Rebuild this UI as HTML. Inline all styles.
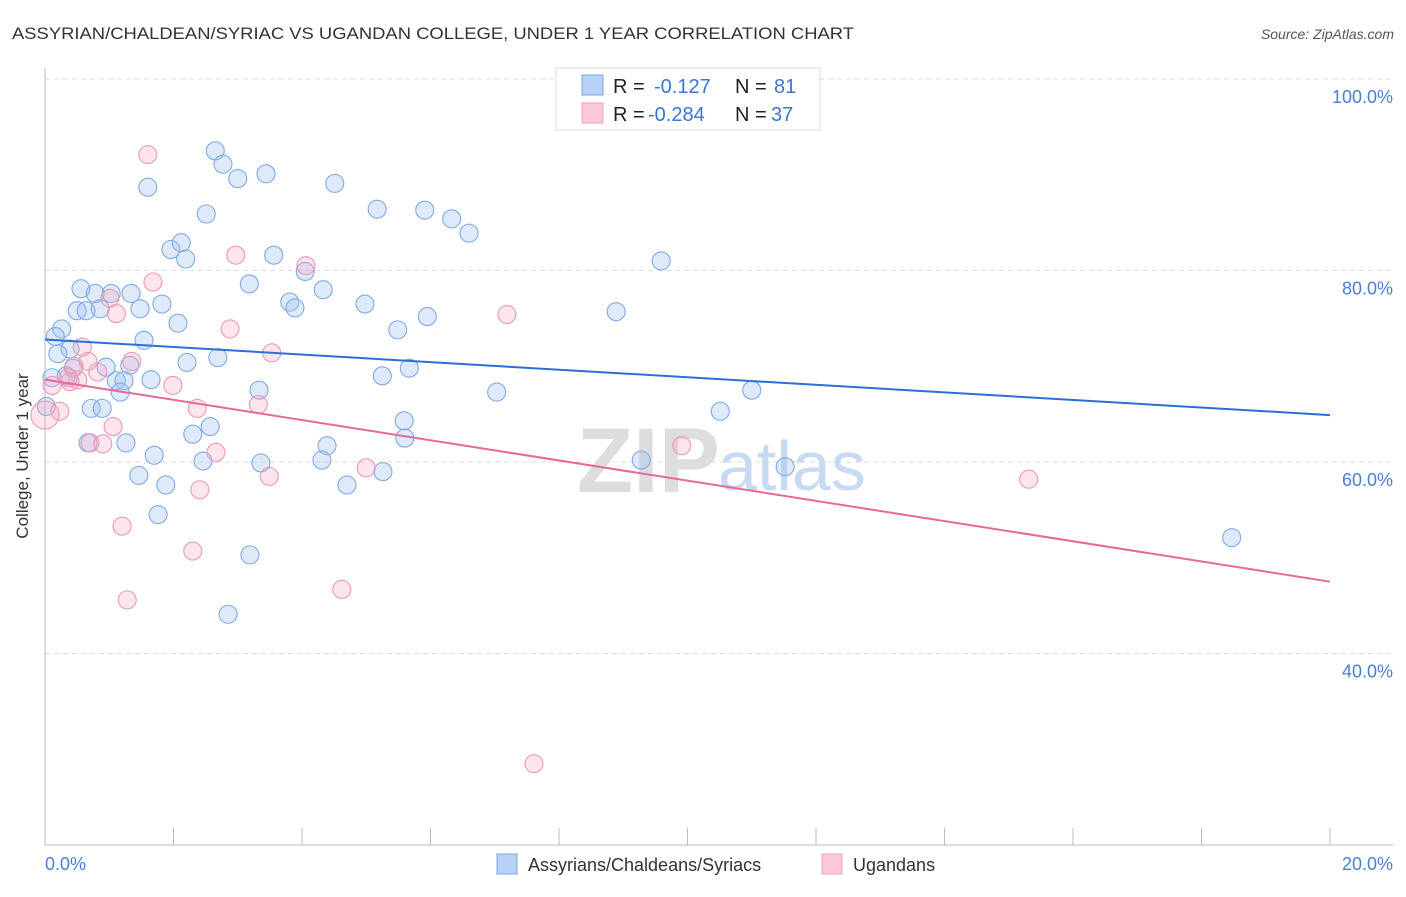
<!DOCTYPE html>
<html><head><meta charset="utf-8"><style>
body{margin:0;background:#fff;font-family:"Liberation Sans",sans-serif;}
svg text{font-family:"Liberation Sans",sans-serif;}
</style></head><body>
<svg id="chart" width="1406" height="892" viewBox="0 0 1406 892">
<text x="12" y="39" font-size="17" fill="#333" textLength="842" lengthAdjust="spacingAndGlyphs">ASSYRIAN/CHALDEAN/SYRIAC VS UGANDAN COLLEGE, UNDER 1 YEAR CORRELATION CHART</text>
<text x="1394" y="39" font-size="14" fill="#555" font-style="italic" text-anchor="end">Source: ZipAtlas.com</text>
<g id="grid"></g>
<text x="720" y="492" font-size="92" font-weight="bold" fill="#ddd" text-anchor="end" font-family="Liberation Serif">ZIP</text>
<text x="718" y="490" font-size="70" fill="#c8daf2">atlas</text>
<line x1="45" y1="68" x2="45" y2="845" stroke="#bbb"/>
<line x1="45" y1="845" x2="1393" y2="845" stroke="#bbb"/>
<g id="points"></g>
<g id="trends"></g>
<text x="28" y="456" font-size="17" fill="#333" text-anchor="middle" transform="rotate(-90 28 456)">College, Under 1 year</text>
<text x="45" y="870" font-size="18" fill="#4a7fd4">0.0%</text>
<text x="1393" y="870" font-size="18" fill="#4a7fd4" text-anchor="end">20.0%</text>
<g>
<rect x="556" y="68" width="264" height="62" fill="#fff" stroke="#ddd"/>
<rect x="582" y="75" width="21" height="20" fill="#b8d2f5" stroke="#7aa7e0"/>
<rect x="582" y="103" width="21" height="20" fill="#fcc8d8" stroke="#eea0bc"/>
<text x="613" y="93" font-size="20" fill="#222">R =</text><text x="654" y="93" font-size="20" fill="#3b75d0">-0.127</text>
<text x="735" y="93" font-size="20" fill="#222">N =</text><text x="774" y="93" font-size="20" fill="#3b75d0">81</text>
<text x="613" y="121" font-size="20" fill="#222">R =</text><text x="648" y="121" font-size="20" fill="#3b75d0">-0.284</text>
<text x="735" y="121" font-size="20" fill="#222">N =</text><text x="771" y="121" font-size="20" fill="#3b75d0">37</text>
</g>
<g>
<rect x="497" y="854" width="20" height="20" fill="#b8d2f5" stroke="#7aa7e0"/>
<text x="528" y="871" font-size="18" fill="#333">Assyrians/Chaldeans/Syriacs</text>
<rect x="822" y="854" width="20" height="20" fill="#fcc8d8" stroke="#eea0bc"/>
<text x="853" y="871" font-size="18" fill="#333">Ugandans</text>
</g>
</svg>
<script>
const yTicks=[40,60,80,100];
const yTickLabels=["40.0%","60.0%","80.0%","100.0%"];
const xTickCount=10;
const blueX=[1.60,2.65,2.77,3.00,3.44,4.51,2.51,5.17,5.91,6.33,6.60,1.96,2.12,2.19,3.56,4.05,3.18,4.33,3.81,3.89,4.98,9.59,8.89,5.95,5.49,0.56,0.78,1.03,1.34,1.82,1.48,0.50,0.64,0.86,2.07,0.26,0.16,1.54,0.39,0.20,2.21,2.69,0.95,1.32,0.44,0.33,0.11,1.11,1.23,1.65,1.17,5.67,5.25,3.33,7.03,11.00,10.51,0.72,0.89,0.02,5.59,2.57,2.30,5.60,4.39,0.67,1.26,1.70,2.46,3.36,4.31,9.28,11.52,5.26,1.46,1.88,4.70,1.76,3.19,2.85,18.47];
const blueY=[88.7,92.5,91.1,89.6,90.1,89.1,85.9,86.4,86.3,85.4,83.9,82.2,82.9,81.2,81.6,79.9,78.6,78.0,76.7,76.1,76.5,81.0,75.7,75.2,73.8,78.1,77.6,77.6,77.6,76.5,76.0,75.8,75.8,76.0,74.5,73.9,73.1,72.7,71.8,71.3,70.4,70.9,69.9,70.1,69.8,69.0,68.8,68.5,68.5,68.6,67.3,69.8,69.0,67.5,67.3,67.5,65.3,65.6,65.6,65.8,64.3,63.7,62.9,62.5,61.7,62.0,62.0,60.7,60.1,59.9,60.2,60.2,59.5,59.0,58.6,57.6,57.6,54.5,50.3,44.1,52.1];
const pinkX=[1.60,2.97,4.06,1.68,1.01,1.11,2.88,7.19,3.53,0.58,0.67,1.35,0.45,0.82,0.51,0.39,1.99,2.37,3.32,0.23,1.06,0.70,0.90,2.66,9.91,5.00,3.49,2.41,1.20,2.30,1.28,4.62,7.61,15.31,0.0,0.11,0.36];
const pinkY=[92.1,81.6,80.5,78.8,77.1,75.5,73.9,75.4,71.4,72.0,70.5,70.5,70.0,69.4,68.6,68.4,68.0,65.6,66.0,65.3,63.7,62.0,61.9,61.0,61.7,59.4,58.5,57.1,53.3,50.7,45.6,46.7,28.5,58.2,64.9,68.0,68.8];
const blueTrend=[72.8,64.9];
const pinkTrend=[68.6,47.5];
const NS="http://www.w3.org/2000/svg";
const xs=v=>45+v/20*1285;
const ys=v=>79+(100-v)*9.575;
function mk(tag,attrs,parent){const e=document.createElementNS(NS,tag);for(const k in attrs)e.setAttribute(k,attrs[k]);parent.appendChild(e);return e;}
const grid=document.getElementById('grid');
yTicks.forEach((t,i)=>{
 const l=mk('line',{x1:45,x2:1393,y1:ys(t),y2:ys(t),stroke:'#ddd','stroke-dasharray':'5,4'},grid);
 
 
 const tx=mk('text',{x:1393,y:ys(t)+24,'font-size':18,fill:'#4a7fd4','text-anchor':'end'},grid);
 tx.textContent=yTickLabels[i];
 
 
});
for(let i=1;i<=xTickCount;i++){
 const x=xs(i*2);
 const l=mk('line',{x1:x,x2:x,y1:828,y2:845,stroke:'#bbb'},grid);
 
 
}
const pts=document.getElementById('points');
blueX.forEach((v,i)=>{
 const c=mk('circle',{cx:xs(v),cy:ys(blueY[i]),r:9,fill:'rgba(160,196,240,0.35)',stroke:'#80aae0','stroke-width':1.1},pts);
 
 
});
pinkX.forEach((v,i)=>{
 const r=i===34?14:9;
 const c=mk('circle',{cx:xs(v),cy:ys(pinkY[i]),r:r,fill:'rgba(245,170,195,0.3)',stroke:'#eb98b6','stroke-width':1.1},pts);
 
 
});
const tr=document.getElementById('trends');
const b=mk('line',{x1:xs(0),y1:ys(blueTrend[0]),x2:xs(20),y2:ys(blueTrend[1]),stroke:'#2a6fd6','stroke-width':2},tr);


const p=mk('line',{x1:xs(0),y1:ys(pinkTrend[0]),x2:xs(20),y2:ys(pinkTrend[1]),stroke:'#e8689a','stroke-width':2},tr);


</script>
</body></html>
